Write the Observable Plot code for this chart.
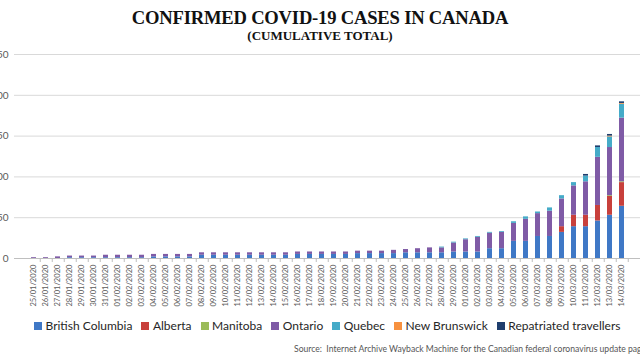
<!DOCTYPE html>
<html>
<head>
<meta charset="utf-8">
<script src="https://cdn.jsdelivr.net/npm/d3@7"></script>
<script src="https://cdn.jsdelivr.net/npm/@observablehq/plot@0.6"></script>
<style>
  html, body { margin: 0; padding: 0; width: 640px; height: 359px; overflow: hidden; background: #fff; }
  #title { position: absolute; left: 0; top: 7px; width: 640px; text-align: center;
    font-family: "Liberation Serif", "DejaVu Serif", serif; font-weight: bold; font-size: 18.6px; color: #111; letter-spacing: -0.2px; }
  #subtitle { position: absolute; left: 0; top: 28px; width: 640px; text-align: center;
    font-family: "Liberation Serif", "DejaVu Serif", serif; font-weight: bold; font-size: 13px; color: #111; }
  #chart { position: absolute; left: 0; top: 48px; }
  #legend { position: absolute; left: 34px; top: 318px; display: flex; gap: 9px; white-space: nowrap;
    font-family: Lato, sans-serif; font-size: 12px; color: #262626; line-height: 16px; }
  #legend .item { display: flex; align-items: center; gap: 3.5px; }
  #legend .sw { width: 8px; height: 8px; display: inline-block; }
  #source { position: absolute; left: 294px; top: 344px; white-space: nowrap;
    font-family: Lato, sans-serif; font-size: 8.6px; color: #555; }
</style>
</head>
<body>
<div id="title">CONFIRMED COVID-19 CASES IN CANADA</div>
<div id="subtitle">(CUMULATIVE TOTAL)</div>
<div id="chart"></div>
<div id="legend"></div>
<div id="source">Source:&nbsp; Internet Archive Wayback Machine for the Canadian federal coronavirus update page</div>
<script>
const dates = [
  "25/01/2020","26/01/2020","27/01/2020","28/01/2020","29/01/2020","30/01/2020","31/01/2020",
  "01/02/2020","02/02/2020","03/02/2020","04/02/2020","05/02/2020","06/02/2020","07/02/2020",
  "08/02/2020","09/02/2020","10/02/2020","11/02/2020","12/02/2020","13/02/2020","14/02/2020",
  "15/02/2020","16/02/2020","17/02/2020","18/02/2020","19/02/2020","20/02/2020","21/02/2020",
  "22/02/2020","23/02/2020","24/02/2020","25/02/2020","26/02/2020","27/02/2020","28/02/2020",
  "29/02/2020","01/03/2020","02/03/2020","03/03/2020","04/03/2020","05/03/2020","06/03/2020",
  "07/03/2020","08/03/2020","09/03/2020","10/03/2020","11/03/2020","12/03/2020","13/03/2020",
  "14/03/2020"
];
const provinces = ["British Columbia","Alberta","Manitoba","Ontario","Quebec","New Brunswick","Repatriated travellers"];
const colors = ["#3f78c6","#c8403c","#9bbb59","#7f5ba6","#45abc8","#f7913f","#1f3e6e"];

const britishColumbia = [0,0,0,1,1,1,1, 1,1,1,2,2,2,2, 4,4,4,4,4,4,4, 4,5,5,5,5,5,6, 6,6,6,7,7,7,7, 8,8,8,12,12,21,21, 27,27,32,39,39,46,53, 64];
const alberta         = [0,0,0,0,0,0,0, 0,0,0,0,0,0,0, 0,0,0,0,0,0,0, 0,0,0,0,0,0,0, 0,0,0,0,0,0,0, 0,0,0,0,0,0,0, 0,0,7,14,14,19,23, 29];
const manitoba        = [0,0,0,0,0,0,0, 0,0,0,0,0,0,0, 0,0,0,0,0,0,0, 0,0,0,0,0,0,0, 0,0,0,0,0,0,0, 0,0,0,0,0,0,0, 0,0,0,0,0,0,1, 1];
const ontario         = [1,1,2,2,2,2,3, 3,3,3,3,3,3,3, 3,3,3,3,3,3,3, 3,3,3,3,3,3,3, 3,3,4,4,5,6,6, 11,15,18,19,20,22,27, 28,31,34,36,41,59,59, 78];
const quebec          = [0,0,0,0,0,0,0, 0,0,0,0,0,0,0, 0,0,0,0,0,0,0, 0,0,0,0,0,0,0, 0,0,0,0,0,0,1, 1,1,1,1,1,2,3, 2,4,4,4,7,12,13, 17];
const newBrunswick    = [0,0,0,0,0,0,0, 0,0,0,0,0,0,0, 0,0,0,0,0,0,0, 0,0,0,0,0,0,0, 0,0,0,0,0,0,0, 0,0,0,0,0,0,0, 0,0,0,0,0,0,1, 1];
const repatriated     = [0,0,0,0,0,0,0, 0,0,0,0,0,0,0, 0,0,0,0,0,0,0, 0,0,0,0,0,0,0, 0,0,0,0,0,0,0, 0,0,0,0,0,0,0, 0,0,0,0,2,2,2, 2];
const yTicks = [0, 50, 100, 150, 200, 250];

const series = [britishColumbia, alberta, manitoba, ontario, quebec, newBrunswick, repatriated];
const rows = [];
provinces.forEach((p, k) => {
  dates.forEach((d, i) => rows.push({date: d, province: p, value: series[k][i]}));
});

const W = 640, ML = 14, MR = 0;
const halfStep = (W - ML - MR) / dates.length / 2;

const chart = Plot.plot({
  width: W,
  height: 260,
  marginLeft: ML,
  marginRight: MR,
  marginTop: 6,
  marginBottom: 50,
  style: {fontFamily: "Lato, sans-serif", color: "#595959", background: "transparent", overflow: "visible"},
  x: {domain: dates, padding: 0.6, label: null},
  y: {domain: [0, 250], label: null},
  color: {domain: provinces, range: colors},
  marks: [
    Plot.gridY(yTicks, {stroke: "#d9d9d9", strokeOpacity: 1}),
    Plot.ruleY([0], {stroke: "#bfbfbf"}),
    Plot.barY(rows, {x: "date", y: "value", fill: "province"}),
    Plot.axisY(yTicks, {tickSize: 0, tickPadding: 6, label: null, fontSize: 10}),
    Plot.axisX({tickSize: 0, tickRotate: -90, tickPadding: 6, label: null, fontSize: 7.6}),
    Plot.axisX({tickSize: 4, tickFormat: () => "", dx: halfStep, stroke: "#bfbfbf", label: null})
  ]
});
document.getElementById("chart").appendChild(chart);

const legend = document.getElementById("legend");
provinces.forEach((p, k) => {
  const item = document.createElement("span");
  item.className = "item";
  const sw = document.createElement("span");
  sw.className = "sw";
  sw.style.background = colors[k];
  const t = document.createElement("span");
  t.textContent = p;
  item.appendChild(sw);
  item.appendChild(t);
  legend.appendChild(item);
});
</script>
</body>
</html>
